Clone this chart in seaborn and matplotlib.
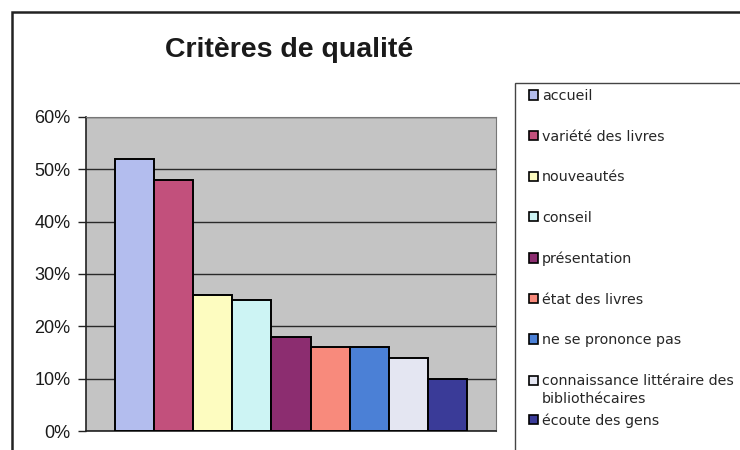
import matplotlib
matplotlib.use("Agg")
import matplotlib.pyplot as plt
import matplotlib.patches as mpatches
from matplotlib.legend_handler import HandlerPatch
from matplotlib.ticker import PercentFormatter
import seaborn as sns
import pandas as pd

# Critères de qualité cités (part des réponses)
criteres = [
    "accueil",
    "variété des livres",
    "nouveautés",
    "conseil",
    "présentation",
    "état des livres",
    "ne se prononce pas",
    "connaissance littéraire des\nbibliothécaires",
    "écoute des gens",
]
parts = [0.52, 0.48, 0.26, 0.25, 0.18, 0.16, 0.16, 0.14, 0.10]
couleurs = ["#b3bdee", "#c2507c", "#fdfcc0", "#cdf4f4", "#8c2d70",
            "#f88a7c", "#4b80d6", "#e4e6f2", "#3a3b98"]
yticks = [0.0, 0.1, 0.2, 0.3, 0.4, 0.5, 0.6]

df = pd.DataFrame({"groupe": [""] * len(criteres),
                   "critere": criteres,
                   "part": parts})

sns.set_theme(style="white")
plt.rcParams["font.family"] = ["Liberation Sans", "DejaVu Sans"]

fig = plt.figure(figsize=(7.4, 4.5), dpi=100)
fig.patch.set_facecolor("white")
ax = fig.add_axes([86 / 740, 1 - 431 / 450, 410 / 740, 314 / 450])
ax.set_facecolor("#c4c4c4")

sns.barplot(data=df, x="groupe", y="part", hue="critere",
            hue_order=criteres, palette=couleurs, width=0.86,
            edgecolor="black", linewidth=1.4, saturation=1,
            dodge=True, errorbar=None, ax=ax, zorder=3)

ax.set_ylim(0, 0.6)
ax.set_yticks(yticks)
ax.yaxis.set_major_formatter(PercentFormatter(1.0, decimals=0))
ax.yaxis.grid(True, color="#2a2a2a", linewidth=1.0, zorder=1)
ax.set_axisbelow(True)
ax.set_xlabel("")
ax.set_ylabel("")
ax.set_xticks([])
ax.tick_params(axis="y", left=True, length=6, width=1.0, color="#222222",
               pad=5, labelsize=13, labelcolor="#1a1a1a")
for side in ("top", "right"):
    ax.spines[side].set_color("#777777")
    ax.spines[side].set_linewidth(0.8)
for side in ("left", "bottom"):
    ax.spines[side].set_color("#222222")
    ax.spines[side].set_linewidth(1.2)


# Carré de légende aligné sur la première ligne d'un libellé sur deux lignes
def carre_haut(legend, orig_handle, xdescent, ydescent, width, height, fontsize):
    return mpatches.Rectangle((-xdescent, -ydescent + 7.0), width, height)


# Légende dans un cadre à droite
handles, labels = ax.get_legend_handles_labels()
ax.get_legend().remove()
props = dict(frameon=False, handlelength=0.62, handleheight=0.62,
             handletextpad=0.3, borderpad=0, borderaxespad=0,
             prop={"family": ["DejaVu Sans"], "size": 10.3})
leg1 = fig.legend(handles[:8], labels[:8], loc="upper left",
                  bbox_to_anchor=(529 / 740, 1 - 89 / 450),
                  labelspacing=1.86,
                  handler_map={handles[7]: HandlerPatch(patch_func=carre_haut)},
                  **props)
leg1.get_texts()[7].set_linespacing(1.4)
leg2 = fig.legend(handles[8:], labels[8:], loc="upper left",
                  bbox_to_anchor=(529 / 740, 1 - 413 / 450), **props)
for leg in (leg1, leg2):
    for h in leg.legend_handles:
        h.set_edgecolor("black")
        h.set_linewidth(1.2)
fig.add_artist(mpatches.Rectangle((515 / 740, -0.1), 0.5, 1 - 83 / 450 + 0.1,
                                  transform=fig.transFigure, fill=False,
                                  edgecolor="#444444", linewidth=1.0))

# Cadre extérieur du graphique
fig.add_artist(mpatches.Rectangle((12 / 740, -0.1), 1.0, 1 - 12 / 450 + 0.1,
                                  transform=fig.transFigure, fill=False,
                                  edgecolor="#222222", linewidth=1.8))

fig.text(289 / 740, 1 - 50 / 450, "Critères de qualité", ha="center",
         va="center", fontsize=20.5, fontweight="bold", color="#1a1a1a")

fig.savefig("out.png", dpi=100)
